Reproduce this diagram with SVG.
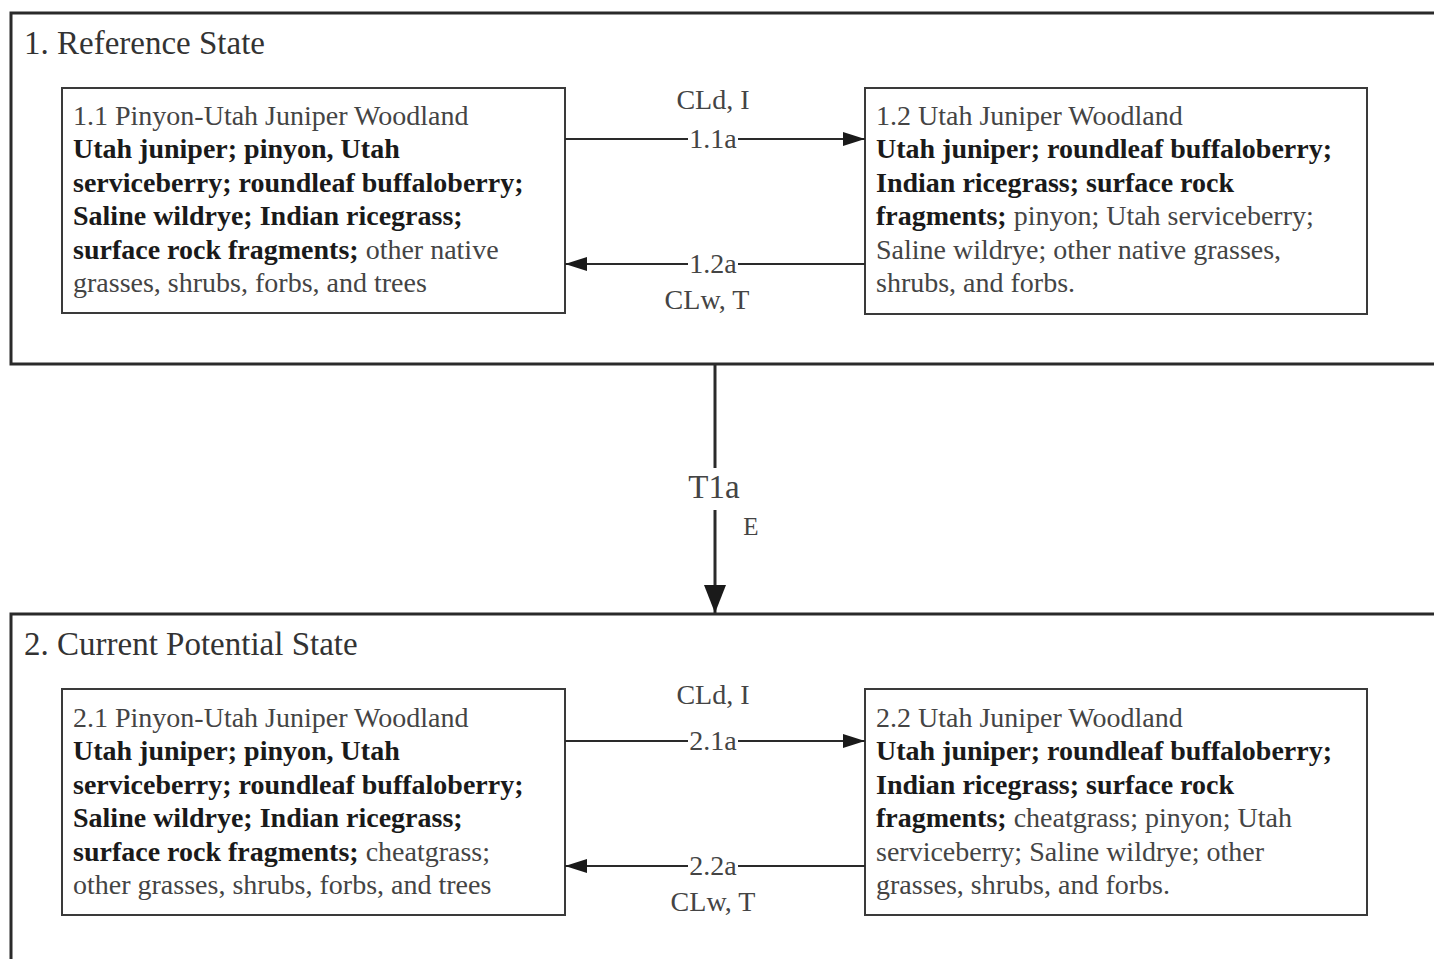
<svg xmlns="http://www.w3.org/2000/svg" width="1434" height="959" viewBox="0 0 1434 959">
<style>
.state{fill:none;stroke:#2a2a2a;stroke-width:3}
.node{fill:#fff;stroke:#3a3a3a;stroke-width:2}
.t{font-family:"Liberation Serif","Times New Roman",serif;font-size:28px;fill:#444}
.b{font-weight:bold;fill:#1a1a1a}
.title{font-family:"Liberation Serif","Times New Roman",serif;font-size:33px;fill:#333}
.lab{font-family:"Liberation Serif","Times New Roman",serif;font-size:28px;fill:#444;text-anchor:middle}
.con{stroke:#2a2a2a;stroke-width:2;fill:none}
</style>
<defs>
<marker id="ah" markerUnits="userSpaceOnUse" markerWidth="22" markerHeight="14" refX="22" refY="7" orient="auto"><path d="M0,0 L22,7 L0,14 z" fill="#1a1a1a"/></marker>
<marker id="ahv" markerUnits="userSpaceOnUse" markerWidth="28" markerHeight="22" refX="28" refY="11" orient="auto"><path d="M0,0 L28,11 L0,22 z" fill="#1a1a1a"/></marker>
</defs>
<rect width="1434" height="959" fill="#fff"/>
<g id="state1">
<rect class="state" x="11" y="13" width="1440" height="351"/>
<text class="title" x="24" y="54">1. Reference State</text>
</g>
<g id="state2">
<rect class="state" x="11" y="614" width="1440" height="360"/>
<text class="title" x="24" y="655">2. Current Potential State</text>
</g>
<g id="n11">
<rect class="node" x="62" y="88" width="503" height="225"/>
<text class="t" x="73" y="125">1.1 Pinyon-Utah Juniper Woodland</text>
<text class="t b" x="73" y="158.4">Utah juniper; pinyon, Utah</text>
<text class="t b" x="73" y="191.8">serviceberry; roundleaf buffaloberry;</text>
<text class="t b" x="73" y="225.2">Saline wildrye; Indian ricegrass;</text>
<text class="t" x="73" y="258.6"><tspan class="b">surface rock fragments;</tspan> other native</text>
<text class="t" x="73" y="292">grasses, shrubs, forbs, and trees</text>
</g>
<g id="n12">
<rect class="node" x="865" y="88" width="502" height="226"/>
<text class="t" x="876" y="125">1.2 Utah Juniper Woodland</text>
<text class="t b" x="876" y="158.4">Utah juniper; roundleaf buffaloberry;</text>
<text class="t b" x="876" y="191.8">Indian ricegrass; surface rock</text>
<text class="t" x="876" y="225.2"><tspan class="b">fragments;</tspan> pinyon; Utah serviceberry;</text>
<text class="t" x="876" y="258.6">Saline wildrye; other native grasses,</text>
<text class="t" x="876" y="292">shrubs, and forbs.</text>
</g>
<g id="n21">
<rect class="node" x="62" y="689" width="503" height="226"/>
<text class="t" x="73" y="727">2.1 Pinyon-Utah Juniper Woodland</text>
<text class="t b" x="73" y="760.4">Utah juniper; pinyon, Utah</text>
<text class="t b" x="73" y="793.8">serviceberry; roundleaf buffaloberry;</text>
<text class="t b" x="73" y="827.2">Saline wildrye; Indian ricegrass;</text>
<text class="t" x="73" y="860.6"><tspan class="b">surface rock fragments;</tspan> cheatgrass;</text>
<text class="t" x="73" y="894">other grasses, shrubs, forbs, and trees</text>
</g>
<g id="n22">
<rect class="node" x="865" y="689" width="502" height="226"/>
<text class="t" x="876" y="727">2.2 Utah Juniper Woodland</text>
<text class="t b" x="876" y="760.4">Utah juniper; roundleaf buffaloberry;</text>
<text class="t b" x="876" y="793.8">Indian ricegrass; surface rock</text>
<text class="t" x="876" y="827.2"><tspan class="b">fragments;</tspan> cheatgrass; pinyon; Utah</text>
<text class="t" x="876" y="860.6">serviceberry; Saline wildrye; other</text>
<text class="t" x="876" y="894">grasses, shrubs, and forbs.</text>
</g>
<g id="connectors">
<line class="con" x1="565" y1="139" x2="688" y2="139"/>
<line class="con" x1="738" y1="139" x2="865" y2="139" marker-end="url(#ah)"/>
<text class="lab" x="713" y="109">CLd, I</text>
<text class="lab" x="713" y="148">1.1a</text>
<line class="con" x1="865" y1="264" x2="738" y2="264"/>
<line class="con" x1="688" y1="264" x2="565" y2="264" marker-end="url(#ah)"/>
<text class="lab" x="713" y="273">1.2a</text>
<text class="lab" x="707" y="309">CLw, T</text>
<line class="con" x1="565" y1="741" x2="688" y2="741"/>
<line class="con" x1="738" y1="741" x2="865" y2="741" marker-end="url(#ah)"/>
<text class="lab" x="713" y="704">CLd, I</text>
<text class="lab" x="713" y="750">2.1a</text>
<line class="con" x1="865" y1="866" x2="738" y2="866"/>
<line class="con" x1="688" y1="866" x2="565" y2="866" marker-end="url(#ah)"/>
<text class="lab" x="713" y="875">2.2a</text>
<text class="lab" x="713" y="911">CLw, T</text>
<line class="con" x1="715" y1="364" x2="715" y2="468" style="stroke-width:3"/>
<line class="con" x1="715" y1="510" x2="715" y2="613" style="stroke-width:3" marker-end="url(#ahv)"/>
<text class="lab" x="714" y="498" style="font-size:33px">T1a</text>
<text class="lab" x="751" y="535" style="font-size:25px">E</text>
</g>
</svg>
